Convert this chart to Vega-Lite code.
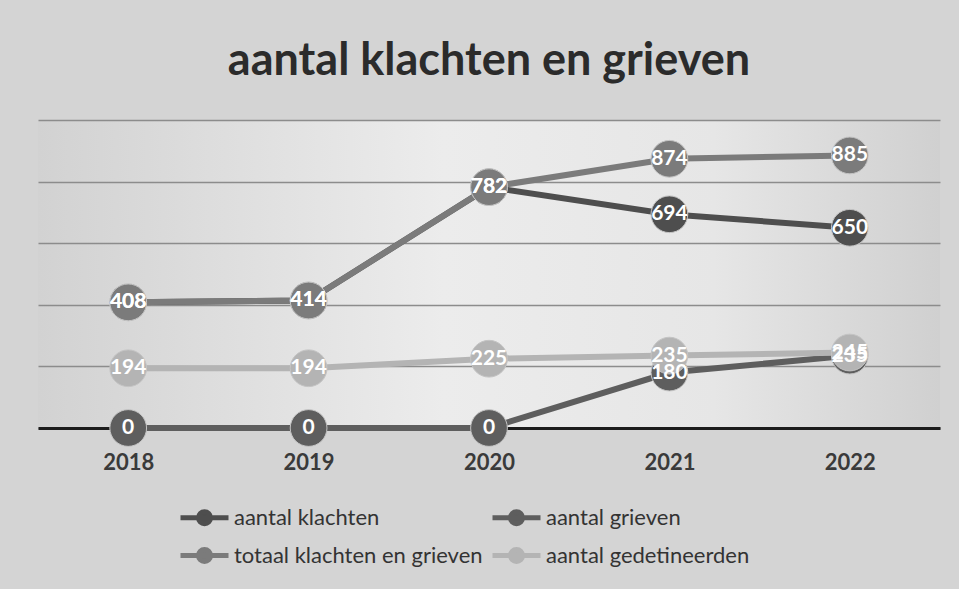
{
  "$schema": "https://vega.github.io/schema/vega-lite/v6.json",
  "width": 902,
  "height": 308,
  "autosize": {"type": "none"},
  "padding": {"left": 38, "top": 120, "right": 19, "bottom": 161},
  "background": "#d4d4d4",
  "view": {
    "stroke": null,
    "fill": {
      "gradient": "linear", "x1": 0, "y1": 0, "x2": 1, "y2": 0,
      "stops": [
        {"offset": 0, "color": "#d2d2d2"},
        {"offset": 0.45, "color": "#ececec"},
        {"offset": 0.75, "color": "#e6e6e6"},
        {"offset": 1, "color": "#d0d0d0"}
      ]
    }
  },
  "title": {
    "text": "aantal klachten en grieven",
    "font": "Lato",
    "fontSize": 45,
    "fontWeight": "bold",
    "color": "#2b2b2b",
    "anchor": "middle",
    "baseline": "alphabetic",
    "offset": 0
  },
  "data": {
    "values": [
      {"jaar": "2018", "reeks": "aantal klachten", "waarde": 408},
      {"jaar": "2019", "reeks": "aantal klachten", "waarde": 414},
      {"jaar": "2020", "reeks": "aantal klachten", "waarde": 782},
      {"jaar": "2021", "reeks": "aantal klachten", "waarde": 694},
      {"jaar": "2022", "reeks": "aantal klachten", "waarde": 650},
      {"jaar": "2018", "reeks": "aantal grieven", "waarde": 0},
      {"jaar": "2019", "reeks": "aantal grieven", "waarde": 0},
      {"jaar": "2020", "reeks": "aantal grieven", "waarde": 0},
      {"jaar": "2021", "reeks": "aantal grieven", "waarde": 180},
      {"jaar": "2022", "reeks": "aantal grieven", "waarde": 235},
      {"jaar": "2018", "reeks": "totaal klachten en grieven", "waarde": 408},
      {"jaar": "2019", "reeks": "totaal klachten en grieven", "waarde": 414},
      {"jaar": "2020", "reeks": "totaal klachten en grieven", "waarde": 782},
      {"jaar": "2021", "reeks": "totaal klachten en grieven", "waarde": 874},
      {"jaar": "2022", "reeks": "totaal klachten en grieven", "waarde": 885},
      {"jaar": "2018", "reeks": "aantal gedetineerden", "waarde": 194},
      {"jaar": "2019", "reeks": "aantal gedetineerden", "waarde": 194},
      {"jaar": "2020", "reeks": "aantal gedetineerden", "waarde": 225},
      {"jaar": "2021", "reeks": "aantal gedetineerden", "waarde": 235},
      {"jaar": "2022", "reeks": "aantal gedetineerden", "waarde": 245}
    ]
  },
  "encoding": {
    "x": {
      "field": "jaar",
      "type": "ordinal",
      "scale": {"type": "point", "padding": 0.5},
      "axis": {
        "title": null,
        "labelAngle": 0,
        "ticks": false,
        "grid": false,
        "domainColor": "#1c1c1c",
        "domainWidth": 3,
        "labelFont": "Lato",
        "labelFontSize": 22,
        "labelFontWeight": "bold",
        "labelColor": "#3a3a3a",
        "labelPadding": 24
      }
    },
    "y": {
      "field": "waarde",
      "type": "quantitative",
      "scale": {"domain": [0, 1000], "nice": false},
      "axis": {
        "title": null,
        "labels": false,
        "ticks": false,
        "domain": false,
        "values": [0, 200, 400, 600, 800, 1000],
        "gridColor": "#8c8c8c",
        "gridWidth": 1.5
      }
    }
  },
  "layer": [
    {
      "mark": {"type": "line", "strokeWidth": 6},
      "encoding": {
        "color": {
          "field": "reeks",
          "type": "nominal",
          "scale": {
            "domain": ["aantal klachten", "totaal klachten en grieven", "aantal grieven", "aantal gedetineerden"],
            "range": ["#4e4e4e", "#7b7b7b", "#5e5e5e", "#b4b4b4"]
          },
          "legend": {
            "title": null,
            "orient": "none",
            "legendX": 164,
            "legendY": 383,
            "columns": 2,
            "symbolType": "M-3,0L1,0M-0.5,0A0.5,0.5 0 1,1 -1.5,0A0.5,0.5 0 1,1 -0.5,0Z",
            "symbolSize": 576,
            "symbolStrokeWidth": 5,
            "labelFont": "Lato",
            "labelFontSize": 22,
            "labelColor": "#333333",
            "labelOffset": 3,
            "labelLimit": 400,
            "rowPadding": 5,
            "columnPadding": -1,
            "padding": 0,
            "encode": {
              "symbols": {
                "update": {
                  "fill": {"scale": "color", "field": "value"},
                  "fillOpacity": {"value": 1}
                }
              }
            }
          }
        }
      }
    },
    {
      "mark": {"type": "point", "filled": true, "size": 1350, "opacity": 1, "stroke": "#c4c4c4", "strokeWidth": 1},
      "encoding": {
        "color": {"field": "reeks", "type": "nominal", "legend": null}
      }
    },
    {
      "mark": {"type": "text", "color": "white", "font": "Lato", "fontSize": 21, "fontWeight": "bold"},
      "encoding": {
        "text": {"field": "waarde", "type": "quantitative"}
      }
    }
  ]
}
